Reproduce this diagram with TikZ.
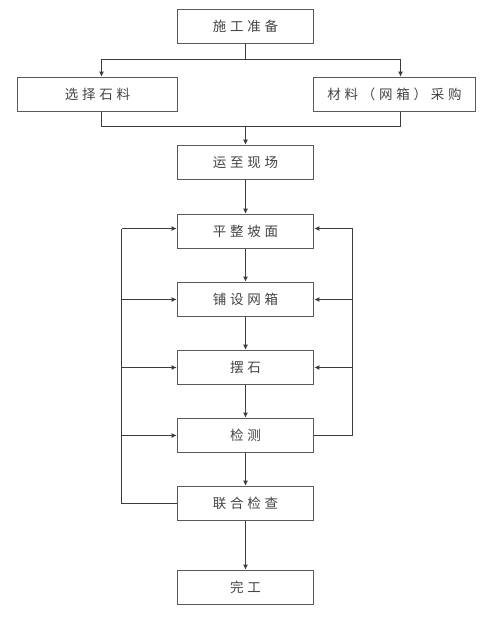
\documentclass[tikz,border=0pt]{standalone}
\usepackage{fontspec}
\newfontfamily\cjk[LetterSpace=28]{Noto Sans CJK SC}
\usetikzlibrary{arrows.meta}
\definecolor{boxgray}{HTML}{5A5A5A}
\definecolor{linegray}{HTML}{3C3C3C}
\definecolor{textgray}{HTML}{444444}
\begin{document}
\begin{tikzpicture}[x=1pt,y=-1pt,
  box/.style={draw=boxgray, line width=1.7pt, minimum height=34pt, inner sep=0pt,
    font=\cjk\fontsize{13.5}{15}\selectfont, text=textgray},
  flow/.style={draw=linegray, line width=1.6pt, -{Latex[length=5pt,width=5pt]}},
  plain/.style={draw=linegray, line width=1.6pt}]
\useasboundingbox (0,0) rectangle (500,632);
\fill[white] (0,0) rectangle (500,632);

\node[box, minimum width=136pt] (a) at (245.5,26.5) {施工准备};
\node[box, minimum width=160pt] (b) at (97.5,94.5) {选择石料};
\node[box, minimum width=162pt] (c) at (394.5,94.5) {材料（网箱）采购};
\node[box, minimum width=136pt] (d) at (245.5,162.5) {运至现场};
\node[box, minimum width=136pt] (e) at (245.5,231.5) {平整坡面};
\node[box, minimum width=136pt] (f) at (245.5,299.5) {铺设网箱};
\node[box, minimum width=136pt] (g) at (245.5,367.5) {摆石};
\node[box, minimum width=136pt] (h) at (245.5,435.5) {检测};
\node[box, minimum width=136pt] (i) at (245.5,503.5) {联合检查};
\node[box, minimum width=136pt] (j) at (245.5,587.5) {完工};

% branch
\coordinate (br) at (245.5,59.5);
\draw[plain] (a.south) -- (br);
\draw[flow] (br) -| ([xshift=4pt]b.north);
\draw[flow] (br) -| ([xshift=6pt]c.north);
% merge
\coordinate (m) at (245.5,126.5);
\draw[plain] ([xshift=4pt]b.south) |- (m) -| ([xshift=6pt]c.south);
\draw[flow] (m) -- (d.north);

% main chain
\draw[flow] (d.south) -- (e.north);
\draw[flow] (e.south) -- (f.north);
\draw[flow] (f.south) -- (g.north);
\draw[flow] (g.south) -- (h.north);
\draw[flow] (h.south) -- (i.north);
\draw[flow] (i.south) -- (j.north);

% left feedback loop
\coordinate (lt) at (121.5,228.5);
\draw[plain] (i.west) -| (lt);
\draw[flow] (lt) -- (lt -| e.west);
\draw[flow] (f.west -| lt) -- (f.west);
\draw[flow] (g.west -| lt) -- (g.west);
\draw[flow] (h.west -| lt) -- (h.west);

% right feedback loop
\coordinate (rt) at (352.5,228.5);
\draw[plain] (h.east) -| (rt);
\draw[flow] (rt) -- (rt -| e.east);
\draw[flow] (f.east -| rt) -- (f.east);
\draw[flow] (g.east -| rt) -- (g.east);
\end{tikzpicture}
\end{document}
